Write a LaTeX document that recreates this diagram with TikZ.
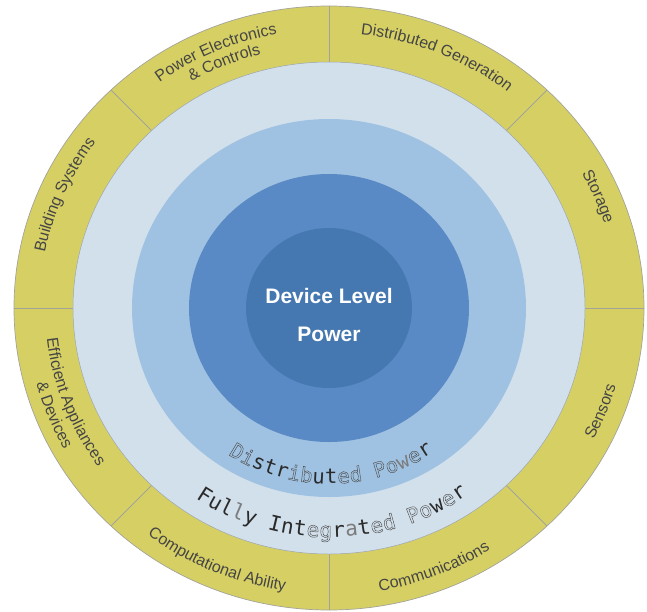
\documentclass[tikz,border=0pt]{standalone}
\usepackage{fontspec}
\setmainfont{Liberation Sans}
\newfontfamily\monofam{DejaVu Sans Mono}

\definecolor{ringyellow}{HTML}{D6D064}
\definecolor{paleblue}{HTML}{D2E0EB}
\definecolor{lightblue}{HTML}{A0C2E2}
\definecolor{midblue}{HTML}{5A8AC5}
\definecolor{deepblue}{HTML}{4577B0}
\definecolor{labelgrey}{HTML}{454545}
\definecolor{rulegrey}{HTML}{A3A39A}
\definecolor{edgegrey}{HTML}{9DA5AD}
\definecolor{inkdark}{HTML}{2A2A2A}
\definecolor{inkgrey}{HTML}{7C7C7C}
\definecolor{inkline}{HTML}{4E4E4E}

% label font for the outer ring
\newcommand\lbl{\fontsize{16}{19}\selectfont\color{labelgrey}}
% letter styles for the two ring titles: filled dark, filled grey, outlined
\newcommand\dF{\monofam\fontsize{20.5}{24}\selectfont\color{inkdark}\special{pdf:literal direct 0 Tr}}
\newcommand\dG{\monofam\fontsize{20.5}{24}\selectfont\color{inkgrey}\special{pdf:literal direct 0 Tr}}
\newcommand\dO{\monofam\fontsize{20.5}{24}\selectfont\color{inkline}\special{pdf:literal direct 0.45 w 1 Tr}}
\newcommand\fF{\monofam\fontsize{21}{25}\selectfont\color{inkdark}\special{pdf:literal direct 0 Tr}}
\newcommand\fG{\monofam\fontsize{21}{25}\selectfont\color{inkgrey}\special{pdf:literal direct 0 Tr}}
\newcommand\fO{\monofam\fontsize{21}{25}\selectfont\color{inkline}\special{pdf:literal direct 0.45 w 1 Tr}}

\tikzset{
  divider/.style={draw=rulegrey, line width=0.8pt},
  glyph/.style={anchor=base, inner sep=0pt, outer sep=0pt},
  centretext/.style={text=white, font=\fontsize{21}{25}\selectfont\bfseries, anchor=base, inner sep=0pt}
}

\newdimen\rtdim
\newdimen\rttot
\newdimen\rtcur
% extra space after each letter, in pt
\def\rttrack{0}
% width of one letter (plus tracking), measured outside the picture's null font
\newcommand\rtmeasure[1]{%
  \begin{pgfinterruptpicture}%
    \setbox0=\hbox{\normalfont#1}\global\rtdim=\wd0\relax
    \global\advance\rtdim by \rttrack pt\relax
  \end{pgfinterruptpicture}}
% Letters set one by one along an ellipse (y/x ratio 0.96).
% #1 name, #2 baseline radius, #3 centre angle, #4 direction (-1: clockwise,
% letters stand outward; 1: counter-clockwise, letters stand inward),
% #5 format, #6 comma list of letters (~ is a space)
\newcommand\ringtext[6]{%
  \pgfmathsetmacro\rtspeed{#2*sqrt(sin(#3)*sin(#3)+0.9216*cos(#3)*cos(#3))}%
  \global\rttot=0pt\relax
  \foreach \g in {#6}{%
    \rtmeasure{#5\g}%
    \global\advance\rttot by \rtdim\relax}%
  \global\advance\rttot by -\rttrack pt\relax
  \global\rtcur=0pt\relax
  \foreach \g [count=\k] in {#6}{%
    \rtmeasure{#5\g}%
    \pgfmathsetmacro\rtw{\the\rtdim}%
    \pgfmathsetmacro\rts{\the\rtcur+0.5*(\rtw-\rttrack)-0.5*\the\rttot}%
    \pgfmathsetmacro\rta{#3+(#4)*deg(\rts/\rtspeed)}%
    \pgfmathsetmacro\rtr{\rta+(#4)*90}%
    \node[glyph, rotate=\rtr] (#1-\k) at ({#2*cos(\rta)},{0.96*#2*sin(\rta)}) {#5\g};
    \global\advance\rtcur by \rtw pt\relax}%
}

\begin{document}
\begin{tikzpicture}[x=1pt,y=1pt]
\useasboundingbox (-329,-303) rectangle (318,308);

% outer ring
\fill[ringyellow] (0,0) ellipse [x radius=315pt, y radius=302pt];
\draw[rulegrey, line width=0.7pt] (0,0) ellipse [x radius=315pt, y radius=302pt];

% sector dividers
\draw[divider] (256,0) -- (315,0);
\draw[divider] (-256,0) -- (-315,0);
\draw[divider] (0,246) -- (0,302);
\draw[divider] (0,-246) -- (0,-302);
\draw[divider] (177.4,177.4) -- (218,218);
\draw[divider] (-177.4,177.4) -- (-218,218);
\draw[divider] (177.4,-177.4) -- (218,-218);
\draw[divider] (-177.4,-177.4) -- (-218,-218);

% nested power levels
\fill[paleblue] (0,0) ellipse [x radius=256pt, y radius=246pt];
\draw[edgegrey, line width=0.5pt] (0,0) ellipse [x radius=256pt, y radius=246pt];
\fill[lightblue] (0,0) ellipse [x radius=197pt, y radius=189pt];
\fill[midblue] (0,0) ellipse [x radius=140pt, y radius=134pt];
\fill[deepblue] (0,0) ellipse [x radius=83pt, y radius=80pt];

% centre title
\node[centretext] (device) at (0,5) {Device Level};
\node[centretext] (power) at (0,-33) {Power};

% outer ring labels
\ringtext{gen}{287}{67.6}{-1}{\lbl}{D,i,s,t,r,i,b,u,t,e,d,~,G,e,n,e,r,a,t,i,o,n}
\ringtext{pel}{290}{113}{-1}{\lbl}{P,o,w,e,r,~,E,l,e,c,t,r,o,n,i,c,s}
\ringtext{ctl}{273}{112.3}{-1}{\lbl}{\&,~,C,o,n,t,r,o,l,s}
\ringtext{bld}{290}{156}{-1}{\lbl}{B,u,i,l,d,i,n,g,~,S,y,s,t,e,m,s}
\ringtext{sto}{289}{23.3}{-1}{\lbl}{S,t,o,r,a,g,e}
\ringtext{sen}{298}{-21.6}{1}{\lbl}{S,e,n,s,o,r,s}
\ringtext{com}{299}{-68.8}{1}{\lbl}{C,o,m,m,u,n,i,c,a,t,i,o,n,s}
\ringtext{cmp}{298}{-113}{1}{\lbl}{C,o,m,p,u,t,a,t,i,o,n,a,l,~,A,b,i,l,i,t,y}
\ringtext{eff}{284}{-159}{1}{\lbl}{E,f,f,i,c,i,e,n,t,~,A,p,p,l,i,a,n,c,e,s}
\ringtext{dev}{303}{-158}{1}{\lbl}{\&,~,D,e,v,i,c,e,s}

% ring titles, slightly tracked
\def\rttrack{0.5}
\ringtext{dpw}{183}{-89.3}{1}{\relax}{\dO D,\dO i,\dF s,\dF t,\dF r,\dO i,\dO b,\dF u,\dF t,\dO e,\dO d,\dO ~,\dO P,\dO o,\dG w,\dO e,\dF r}
\def\rttrack{0.55}
\ringtext{fip}{239}{-89.2}{1}{\relax}{\fF F,\fF u,\fF l,\fG l,\fF y,\fF ~,\fF I,\fF n,\fF t,\fO e,\fO g,\fF r,\fG a,\fF t,\fO e,\fO d,\fO ~,\fO P,\fO o,\fF w,\fO e,\fF r}
\end{tikzpicture}
\end{document}
